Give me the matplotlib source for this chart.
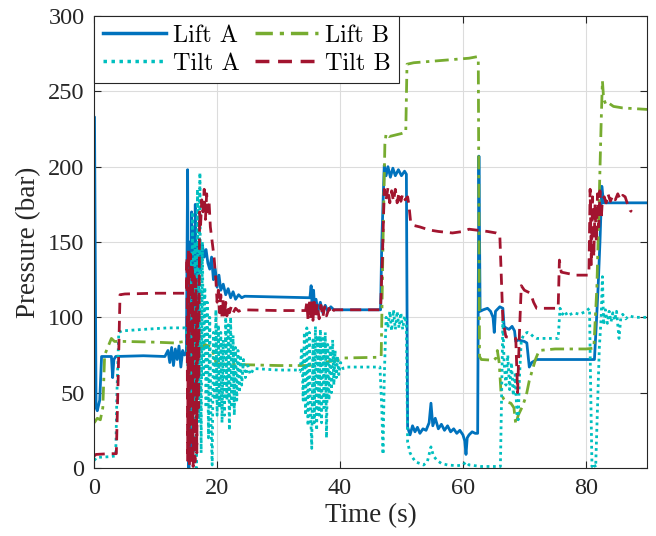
"""
Lift / tilt cylinder pressures over a work cycle.
Values read off the reference figure (breakpoints, bar vs seconds).
"""

import matplotlib
matplotlib.use("Agg")  # headless
import matplotlib.pyplot as plt

plt.rcParams["font.family"] = ["Liberation Serif", "DejaVu Serif"]
plt.rcParams["font.size"] = 17.5

# ---- data: (time s, pressure bar) -------------------------------------------
lift_a_t = [0, 0.05, 0.3, 0.5, 0.9, 1.2, 1.5, 2.8, 3.0, 3.2, 3.5, 8, 11.5, 12, 12.3, 12.6, 12.9,
            13.2, 13.5, 13.8, 14.1, 14.4, 14.7, 15.0, 15.2, 15.4, 15.55, 15.7, 15.85, 16.0, 16.15,
            16.3, 16.45, 16.6, 16.75, 16.9, 17.05, 17.3, 17.6, 17.9, 18.2, 18.5, 18.8, 19.1, 19.4,
            19.7, 20.0, 20.3, 20.6, 21, 21.4, 21.8, 22.2, 22.6, 23, 23.5, 24, 24.5, 30, 34.8, 35.1,
            35.3, 35.5, 35.7, 35.9, 36.1, 36.4, 36.8, 37.2, 37.6, 38, 38.5, 39, 40, 46.6, 46.8, 47.2,
            47.5, 47.8, 48.2, 48.6, 49, 49.5, 50, 50.5, 50.8, 51.0, 51.4, 51.8, 52.2, 52.6, 53, 53.5,
            54, 54.5, 54.8, 55.1, 55.5, 56, 56.5, 57, 57.5, 58, 58.5, 59, 59.5, 60, 60.3, 60.5, 60.7,
            61, 61.5, 62, 62.4, 62.6, 62.8, 63.3, 64, 64.5, 64.9, 65.1, 65.3, 66, 66.5, 66.7, 67,
            67.5, 68, 68.4, 68.6, 69, 70, 70.4, 70.8, 71.2, 72, 81.4, 81.7, 82.0, 82.3, 82.6, 82.9,
            86.3, 90]
lift_a_p = [233, 233, 40, 38, 45, 74, 74, 74, 60, 72, 74, 74.5, 74, 78, 70, 80, 68,
            79, 72, 81, 67, 78, 75, 76, 198, 0, 150, 10, 170, 20, 160,
            40, 175, 60, 150, 90, 145, 130, 148, 140, 145, 136, 132, 140, 125,
            132, 120, 128, 118, 122, 115, 119, 113, 117, 112, 115, 113, 114, 113.5, 113, 113,
            121, 104, 118, 103, 112, 104, 110, 103, 108, 104, 107, 105, 105, 105, 150, 201,
            194, 200, 193, 199, 194, 198, 194, 197, 195, 27, 22, 28, 24, 27, 23, 26,
            25, 30, 43, 28, 33, 26, 29, 25, 28, 24, 26, 23, 25, 22, 18, 9, 20,
            22, 24, 23, 23, 207, 104, 105, 106, 104, 100, 90, 104, 107, 106, 94, 93,
            92, 94, 91, 84, 85, 84, 83, 67, 70, 72, 72, 95, 120, 150, 187, 176,
            176, 176]

lift_b_t = [0, 0.5, 1.0, 1.4, 1.7, 2.2, 2.8, 3.3, 5, 10, 13, 14.8, 15.2, 15.5, 16, 16.5, 17, 17.5,
            18, 18.6, 19.0, 19.5, 19.8, 20.2, 25, 30, 35, 36, 40, 40.5, 46.4, 46.7, 47.0, 47.3,
            47.5, 48, 49, 50, 50.7, 50.9, 52, 55, 58, 61, 62.3, 62.5, 62.7, 63, 65, 65.4, 65.6,
            65.9, 66.2, 66.6, 67, 67.8, 68.3, 68.6, 69, 69.7, 70.3, 70.8, 71.3, 71.8, 72.4, 75,
            80, 81.3, 81.8, 82.2, 82.5, 82.7, 82.9, 83.3, 83.8, 84.5, 86, 88, 90]
lift_b_p = [30, 33, 32, 40, 75, 80, 86, 84, 84, 83.5, 83, 84, 82, 60, 85, 70, 82, 80,
            82, 81, 80, 75, 70, 69, 68.5, 68, 68, 69, 72, 73, 73.5, 74, 150, 215,
            222, 220, 221, 222, 223, 268, 269, 270, 271, 272, 273, 272, 74, 72, 71.5, 73, 78,
            70, 50, 46, 44, 43, 40, 29, 35, 41, 48, 58, 65, 72, 78, 79,
            79, 79.5, 120, 182, 230, 257, 245, 241, 242, 240, 239, 238.5, 238]

tilt_a_t = [0, 0.4, 2.5, 3.5, 3.7, 4.0, 4.5, 8, 12, 14.8, 15.0, 15.3, 15.6, 15.8, 16.0, 16.2, 16.4,
            16.6, 16.8, 17.0, 17.2, 17.4, 17.6, 17.8, 18.0, 18.2, 18.4, 18.6, 18.8, 19.0, 19.2,
            19.4, 19.6, 19.8, 20.0, 20.2, 20.4, 20.6, 20.8, 21.0, 21.2, 21.4, 21.6, 21.8, 22.0,
            22.2, 22.4, 22.6, 22.8, 23.0, 23.2, 23.4, 23.6, 23.8, 24.0, 24.3, 24.6, 25, 25.4, 26,
            30, 33, 33.5, 33.8, 34.0, 34.2, 34.4, 34.6, 34.8, 35.0, 35.2, 35.4, 35.6, 35.8, 36.0,
            36.2, 36.4, 36.6, 36.8, 37.0, 37.2, 37.4, 37.6, 37.8, 38.0, 38.2, 38.4, 38.6, 38.8,
            39.0, 39.2, 39.4, 39.6, 39.8, 40.1, 40.5, 41, 46.5, 46.8, 47.0, 47.2, 47.5, 47.8,
            48.1, 48.4, 48.7, 49, 49.3, 49.6, 49.9, 50.2, 50.5, 50.8, 51.0, 51.4, 51.8, 52.3, 53,
            53.6, 54.2, 54.8, 55.2, 55.8, 56.5, 57.5, 59, 60, 60.5, 61, 63, 65, 66.1, 66.3, 66.5,
            66.7, 67.0, 67.3, 67.6, 67.9, 68.2, 68.5, 68.8, 69.0, 69.2, 69.5, 70.0, 70.5, 71,
            71.5, 72, 75.5, 75.8, 76.2, 76.6, 77, 78, 79, 80, 80.6, 80.8, 81.0, 81.3, 81.6, 81.9,
            82.2, 82.5, 82.7, 82.9, 83.2, 83.5, 83.8, 84.1, 84.4, 84.7, 85.0, 85.4, 85.7, 86,
            86.5, 87, 88, 89, 90]
tilt_a_p = [5, 7, 7.5, 8, 50, 90, 91, 92, 93, 93, 92, 60, 140, 20, 170, 5, 150,
            0, 185, 30, 196, 10, 150, 60, 120, 40, 110, 20, 100, 30, 2,
            90, 45, 105, 35, 95, 40, 90, 30, 85, 35, 100, 45, 95, 25,
            100, 40, 88, 35, 80, 45, 78, 50, 75, 55, 72, 60, 68, 62, 66,
            65, 65, 64, 80, 45, 90, 35, 93, 28, 90, 40, 13, 85, 30, 94,
            25, 88, 35, 92, 30, 86, 40, 90, 20, 82, 45, 80, 50, 85,
            55, 78, 60, 74, 62, 70, 66, 67, 67, 40, 9, 60, 100, 93,
            104, 91, 105, 92, 104, 93, 103, 92, 101, 96, 17, 10, 7, 4, 3,
            2, 4, 14, 8, 5, 3, 2, 1.5, 2, 4, 2, 1, 1, 1, 50, 98,
            70, 55, 75, 52, 70, 48, 62, 35, 32, 60, 85, 89, 90, 89,
            87, 86, 86, 106, 102, 104, 101, 103, 102, 104, 106, 50, 1, 3, 0.5, 40,
            80, 100, 127, 95, 105, 96, 104, 97, 103, 98, 104, 86, 100, 102,
            99, 101, 100, 100, 100]

tilt_b_t = [0, 0.3, 2.5, 3.6, 3.9, 4.2, 5, 10, 14.8, 15.0, 15.1, 15.2, 15.35, 15.5, 15.65, 15.8,
            15.95, 16.1, 16.25, 16.4, 16.55, 16.7, 16.85, 17.0, 17.15, 17.3, 17.5, 17.7, 17.9,
            18.1, 18.3, 18.5, 18.7, 18.9, 19.2, 19.5, 19.8, 20.0, 20.2, 20.4, 20.6, 20.8, 21.0,
            21.2, 21.4, 21.6, 21.8, 22.0, 22.3, 22.6, 23, 23.5, 24, 30, 34.4, 34.6, 34.8, 35.0,
            35.2, 35.4, 35.6, 35.8, 36.0, 36.3, 36.6, 36.9, 37.2, 37.5, 37.8, 38.2, 38.6, 39, 40,
            46.6, 46.9, 47.2, 47.5, 47.8, 48.1, 48.4, 48.7, 49.0, 49.3, 49.6, 49.9, 50.2, 50.6,
            51.0, 51.2, 51.5, 52, 53, 54.5, 56, 58.3, 60, 61, 62, 64, 65.4, 66.0, 66.3, 66.5, 67,
            68, 68.6, 68.9, 69.2, 69.5, 70, 70.5, 71, 71.5, 72, 74, 75.5, 75.7, 76, 78.4, 80.5,
            80.7, 80.9, 81.1, 81.3, 81.5, 81.7, 81.9, 82.1, 82.3, 82.5, 82.7, 83, 83.3, 83.6, 84,
            84.4, 84.8, 85.2, 85.6, 86, 86.4, 86.8, 87.2, 87.5]
tilt_b_p = [8, 9, 9.5, 9.5, 60, 115, 115.5, 116, 116, 116, 140, 5, 145, 2, 142, 3,
            135, 1, 130, 4, 125, 10, 110, 40, 170, 160, 178, 170, 185,
            165, 182, 170, 176, 160, 150, 140, 125, 110, 118, 103, 115, 100, 112,
            100, 110, 101, 108, 103, 107, 103, 106, 104, 105, 104.5, 104.5, 110, 98, 112,
            99, 111, 98, 110, 100, 109, 99, 108, 100, 107, 101, 106, 102, 105, 105,
            105, 140, 185, 178, 186, 176, 184, 177, 185, 176, 183, 177, 182, 178,
            180, 175, 163, 161, 160, 158, 157, 156, 157, 158.5, 158, 157, 156, 155, 120, 98, 87,
            87, 86, 50, 90, 121, 118, 117, 116, 110, 106, 106, 106, 138, 130, 128, 128,
            185, 135, 180, 140, 175, 150, 182, 160, 184, 165, 178, 180, 176, 182, 177,
            181, 178, 182, 178, 181, 180, 175, 171, 170]

# ---- figure -----------------------------------------------------------------
fig = plt.figure(figsize=(6.56, 5.36), dpi=100)
ax = fig.add_axes([0.1436, 0.1269, 0.8431, 0.8432])

lw = 2.0
h1, = ax.plot(lift_a_t, lift_a_p, color="#0072BD", lw=lw, linestyle="-", label="Lift A")
h2, = ax.plot(lift_b_t, lift_b_p, color="#77AC30", lw=lw, linestyle=(0, (5, 2, 1.2, 2)), label="Lift B")
h3, = ax.plot(tilt_a_t, tilt_a_p, color="#00BFBF", lw=lw, linestyle=(0, (1, 1.3)), label="Tilt A")
h4, = ax.plot(tilt_b_t, tilt_b_p, color="#A2142F", lw=lw, linestyle=(0, (4, 2.5)), label="Tilt B")

ax.set_xlim(0, 90)
ax.set_ylim(0, 300)
ax.set_xticks([0, 20, 40, 60, 80])
ax.set_yticks([0, 50, 100, 150, 200, 250, 300])
ax.grid(True, color="#dcdcdc", linewidth=0.8)
ax.set_axisbelow(True)
ax.tick_params(direction="in", top=True, right=True, length=5, width=0.8,
               colors="#262626", labelsize=17.5)
ax.tick_params(axis="x", pad=7)
ax.tick_params(axis="y", pad=7)
for s in ax.spines.values():
    s.set_color("#262626")
    s.set_linewidth(0.8)

ax.set_xlabel("Time (s)", fontsize=19.5, color="#262626", labelpad=3)
ax.set_ylabel("Pressure (bar)", fontsize=19.5, color="#262626", labelpad=5)

# legend text is LaTeX-style (Computer Modern); matplotlib fills columns first,
# so reorder to get rows Lift A / Lift B, Tilt A / Tilt B
leg = ax.legend([h1, h3, h2, h4], ["Lift A", "Tilt A", "Lift B", "Tilt B"],
                ncol=2, loc="upper left", bbox_to_anchor=(0, 1), borderaxespad=0,
                prop={"family": "cmr10", "size": 17.5},
                handlelength=2.6, handletextpad=0.3, columnspacing=0.6,
                labelspacing=0.25, borderpad=0.35, fancybox=False, framealpha=1)
leg.get_frame().set_edgecolor("#262626")
leg.get_frame().set_linewidth(0.8)
for lh in leg.get_lines():
    lh.set_linewidth(2.5)

fig.savefig("out.png", dpi=100)
